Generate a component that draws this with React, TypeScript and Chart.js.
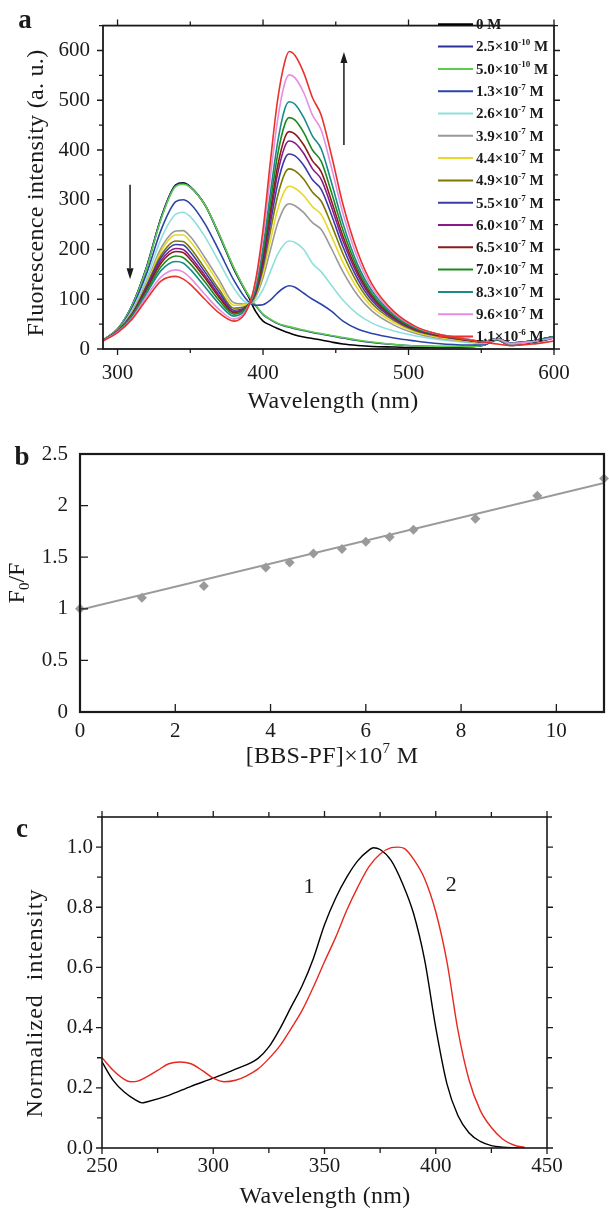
import React, { useEffect, useRef } from 'react';
import { Chart, registerables } from 'chart.js';

Chart.register(...registerables);

const FONT = '"Liberation Serif", "Times New Roman", Times, serif';
const INK = '#1a1a1a';

// ---------------- Panel a : fluorescence spectra ----------------
const wavelengthA = [290, 300, 310, 320, 330, 340, 345, 350, 360, 370, 380, 390, 395, 400, 405, 410, 415, 418, 422, 428, 434, 440, 447, 455, 465, 475, 490, 505, 520, 540, 552, 561, 570, 585, 600];
const concMantissa = ['0', '2.5', '5.0', '1.3', '2.6', '3.9', '4.4', '4.9', '5.5', '6.0', '6.5', '7.0', '8.3', '9.6', '1.1'];
const concExponent = ['', '-10', '-10', '-7', '-7', '-7', '-7', '-7', '-7', '-7', '-7', '-7', '-7', '-7', '-6'];
const colorsA = ['#000000', '#2b2f9a', '#5ccc4c', '#2c44a8', '#8fe0dc', '#999999', '#e8d82a', '#7d7800', '#3b3ba8', '#8a1a8a', '#8b1c1c', '#1e8a1e', '#1a8a8a', '#e68ee0', '#e8322a'];
const int0 = [18, 40, 88, 165, 265, 330, 334, 326, 290, 228, 160, 105, 75, 56, 48, 41, 35, 32, 28, 24, 21, 18, 14, 10, 7, 5, 4, 3, 3, 4, 8, 18, 7, 13, 22];
const int1 = [18, 40, 88, 165, 264, 329, 333, 326, 290, 229, 162, 107, 87, 69, 59, 51, 46, 44, 41, 37, 33, 30, 26, 22, 17, 13, 9, 6, 5, 5, 8, 19, 8, 14, 24];
const int2 = [18, 40, 87, 163, 262, 327, 331, 325, 290, 230, 163, 108, 88, 70, 60, 52, 47, 45, 42, 38, 34, 31, 27, 23, 18, 14, 9, 6, 5, 5, 8, 19, 8, 15, 25];
const int3 = [18, 38, 82, 152, 240, 296, 300, 292, 252, 196, 138, 95, 88, 89, 98, 113, 124, 127, 124, 112, 100, 90, 76, 56, 40, 31, 22, 16, 11, 8, 9, 20, 9, 14, 23];
const int4 = [18, 37, 78, 142, 222, 271, 275, 266, 226, 174, 122, 92, 98, 120, 155, 190, 212, 217, 214, 200, 172, 155, 128, 98, 70, 52, 36, 26, 19, 13, 11, 21, 10, 15, 24];
const int5 = [17, 37, 74, 134, 203, 237, 238, 226, 184, 138, 93, 90, 105, 143, 198, 252, 286, 292, 288, 274, 254, 240, 202, 155, 108, 76, 48, 31, 22, 15, 12, 21, 11, 16, 24];
const int6 = [17, 36, 72, 131, 197, 229, 229, 216, 175, 130, 88, 90, 108, 152, 217, 280, 319, 327, 323, 308, 286, 270, 227, 174, 121, 84, 53, 34, 24, 16, 13, 21, 12, 16, 24];
const int7 = [17, 36, 71, 128, 189, 217, 216, 203, 162, 119, 82, 89, 110, 162, 236, 307, 353, 362, 358, 341, 315, 297, 250, 191, 132, 91, 57, 36, 26, 17, 14, 21, 12, 16, 25];
const int8 = [17, 36, 70, 126, 184, 210, 209, 195, 155, 113, 78, 89, 112, 170, 252, 331, 382, 392, 388, 369, 340, 321, 270, 205, 141, 97, 60, 38, 27, 18, 14, 21, 12, 16, 25];
const int9 = [17, 36, 69, 123, 178, 202, 200, 186, 148, 107, 75, 89, 115, 178, 266, 352, 407, 418, 414, 393, 362, 341, 286, 217, 149, 102, 62, 39, 27, 18, 14, 21, 12, 16, 25];
const int10 = [17, 36, 68, 120, 173, 196, 194, 180, 143, 103, 73, 88, 117, 185, 277, 367, 425, 437, 432, 410, 378, 356, 298, 226, 155, 106, 64, 40, 28, 18, 15, 21, 12, 16, 25];
const int11 = [17, 35, 67, 116, 166, 187, 184, 171, 135, 97, 70, 88, 120, 195, 293, 390, 452, 465, 460, 435, 400, 377, 315, 238, 162, 110, 66, 41, 29, 19, 15, 21, 12, 16, 25];
const int12 = [17, 35, 65, 112, 158, 176, 173, 160, 125, 90, 66, 87, 125, 205, 312, 415, 483, 497, 492, 465, 428, 402, 335, 252, 170, 116, 69, 43, 30, 20, 15, 21, 12, 16, 25];
const int13 = [16, 34, 62, 106, 145, 159, 155, 143, 110, 79, 60, 86, 135, 225, 345, 460, 535, 551, 545, 515, 470, 440, 365, 272, 183, 123, 72, 44, 30, 20, 15, 20, 11, 15, 22];
const int14 = [16, 33, 60, 100, 137, 146, 141, 130, 100, 72, 56, 85, 140, 240, 375, 500, 578, 598, 590, 555, 505, 470, 390, 290, 195, 130, 75, 45, 30, 19, 14, 10, 7, 10, 16];
const intensityA = [int0, int1, int2, int3, int4, int5, int6, int7, int8, int9, int10, int11, int12, int13, int14];
const majorAx = [300, 400, 500, 600];
const minorAx = [350, 450, 550];
const majorAy = [0, 100, 200, 300, 400, 500, 600];
const minorAy = [50, 150, 250, 350, 450, 550, 650];

// ---------------- Panel b : Stern-Volmer ----------------
const concB = [0, 1.3, 2.6, 3.9, 4.4, 4.9, 5.5, 6.0, 6.5, 7.0, 8.3, 9.6, 11];
const ratioB = [1.0, 1.107, 1.22, 1.40, 1.448, 1.535, 1.58, 1.65, 1.696, 1.766, 1.873, 2.095, 2.262];
const fitX = [0, 11];
const fitY = [0.99, 2.22];
const labelBx = [0, 2, 4, 6, 8, 10];
const labelBy = [0, 0.5, 1, 1.5, 2, 2.5];
const majorBx = [2, 4, 6, 8, 10];
const majorBy = [0.5, 1, 1.5, 2];

// ---------------- Panel c : normalized spectra ----------------
const wavelength1 = [250, 255, 260, 265, 268, 270, 280, 290, 300, 310, 320, 325, 330, 335, 340, 345, 350, 355, 360, 365, 370, 372, 375, 380, 385, 390, 395, 400, 405, 410, 415, 420, 425, 430, 435, 440];
const intensity1 = [0.286, 0.225, 0.186, 0.160, 0.150, 0.153, 0.175, 0.205, 0.232, 0.262, 0.297, 0.336, 0.397, 0.469, 0.540, 0.630, 0.742, 0.830, 0.900, 0.955, 0.990, 0.998, 0.992, 0.955, 0.880, 0.780, 0.625, 0.400, 0.214, 0.107, 0.050, 0.022, 0.008, 0.003, 0.001, 0.0];
const wavelength2 = [250, 255, 260, 263, 266, 270, 275, 280, 285, 290, 295, 300, 305, 310, 315, 320, 325, 330, 335, 340, 345, 350, 355, 360, 365, 370, 375, 380, 383, 386, 390, 395, 400, 405, 410, 415, 420, 425, 430, 435, 440];
const intensity2 = [0.300, 0.258, 0.228, 0.220, 0.222, 0.236, 0.258, 0.280, 0.286, 0.280, 0.258, 0.232, 0.220, 0.225, 0.240, 0.262, 0.297, 0.340, 0.397, 0.458, 0.535, 0.619, 0.700, 0.790, 0.868, 0.935, 0.977, 0.998, 1.000, 0.995, 0.960, 0.895, 0.785, 0.620, 0.390, 0.225, 0.125, 0.068, 0.030, 0.010, 0.002];
const majorCx = [250, 300, 350, 400, 450];
const minorCx = [275, 325, 375, 425];
const majorCy = [0, 0.2, 0.4, 0.6, 0.8, 1.0];
const minorCy = [0.1, 0.3, 0.5, 0.7, 0.9, 1.1];

// ---------------- helpers ----------------
type Part = { t: string; s?: 'sup' | 'sub' };

function drawRich(ctx: any, parts: Part[], x: number, y: number, size: number, weight: string, rot: number, align: 'center' | 'left' = 'center', spacing = 0) {
  ctx.save();
  ctx.translate(x, y);
  ctx.rotate(rot);
  ctx.fillStyle = INK;
  ctx.textBaseline = 'middle';
  ctx.textAlign = 'left';
  try { ctx.letterSpacing = spacing + 'px'; } catch (e) { /* ignore */ }
  const fonts = parts.map((p) => `${weight} ${p.s ? Math.round(size * 0.62) : size}px ${FONT}`);
  const widths = parts.map((p, i) => { ctx.font = fonts[i]; return ctx.measureText(p.t).width; });
  const total = widths.reduce((a, b) => a + b, 0);
  let cx = align === 'center' ? -total / 2 : 0;
  parts.forEach((p, i) => {
    ctx.font = fonts[i];
    const dy = p.s === 'sup' ? -size * 0.33 : p.s === 'sub' ? size * 0.28 : 0;
    ctx.fillText(p.t, cx, dy);
    cx += widths[i];
  });
  ctx.restore();
}

function drawArrow(ctx: any, x1: number, y1: number, x2: number, y2: number) {
  const ang = Math.atan2(y2 - y1, x2 - x1);
  const head = 11;
  const half = 3.5;
  ctx.save();
  ctx.strokeStyle = INK;
  ctx.fillStyle = INK;
  ctx.lineWidth = 1.5;
  ctx.beginPath();
  ctx.moveTo(x1, y1);
  ctx.lineTo(x2 - Math.cos(ang) * head, y2 - Math.sin(ang) * head);
  ctx.stroke();
  ctx.beginPath();
  ctx.moveTo(x2, y2);
  ctx.lineTo(x2 - Math.cos(ang) * head - Math.sin(ang) * half, y2 - Math.sin(ang) * head + Math.cos(ang) * half);
  ctx.lineTo(x2 - Math.cos(ang) * head + Math.sin(ang) * half, y2 - Math.sin(ang) * head - Math.cos(ang) * half);
  ctx.closePath();
  ctx.fill();
  ctx.restore();
}

function makeFrame(id: string, o: any) {
  return {
    id,
    afterDatasetsDraw(chart: any) {
      const { ctx, chartArea: a } = chart;
      const xs = chart.scales.x;
      const ys = chart.scales.y;
      const dir = o.inward ? -1 : 1;
      ctx.save();
      ctx.strokeStyle = INK;
      ctx.lineWidth = o.tickWidth;
      ctx.beginPath();
      const xt = (vals: number[], len: number) => vals.forEach((v) => {
        const p = xs.getPixelForValue(v);
        ctx.moveTo(p, a.bottom); ctx.lineTo(p, a.bottom + dir * len);
        if (o.mirror) { ctx.moveTo(p, a.top); ctx.lineTo(p, a.top - dir * len); }
      });
      const yt = (vals: number[], len: number) => vals.forEach((v) => {
        const p = ys.getPixelForValue(v);
        ctx.moveTo(a.left, p); ctx.lineTo(a.left - dir * len, p);
        if (o.mirror) { ctx.moveTo(a.right, p); ctx.lineTo(a.right + dir * len, p); }
      });
      xt(o.xMajor, o.majorLen);
      xt(o.xMinor || [], o.minorLen);
      yt(o.yMajor, o.majorLen);
      yt(o.yMinor || [], o.minorLen);
      ctx.stroke();
      ctx.lineWidth = o.frameWidth;
      ctx.strokeRect(a.left, a.top, a.right - a.left, a.bottom - a.top);
      ctx.restore();
    },
  };
}

const tickFont = { family: FONT, size: 21 };

function xAxis(min: number, max: number, labels: number[], height: number, pad: number, cb?: any) {
  return {
    type: 'linear', position: 'bottom', min, max,
    grid: { display: false, drawTicks: false },
    border: { display: false },
    ticks: { autoSkip: false, maxRotation: 0, minRotation: 0, padding: pad, font: tickFont, color: INK, ...(cb ? { callback: cb } : {}) },
    afterBuildTicks: (s: any) => { s.ticks = labels.map((v) => ({ value: v })); },
    afterFit: (s: any) => { s.height = height; },
  };
}

function yAxis(min: number, max: number, labels: number[], width: number, pad: number, cb?: any) {
  return {
    type: 'linear', position: 'left', min, max,
    grid: { display: false, drawTicks: false },
    border: { display: false },
    ticks: { autoSkip: false, padding: pad, font: tickFont, color: INK, ...(cb ? { callback: cb } : {}) },
    afterBuildTicks: (s: any) => { s.ticks = labels.map((v) => ({ value: v })); },
    afterFit: (s: any) => { s.width = width; },
  };
}

const basePlugins = { legend: { display: false }, tooltip: { enabled: false }, title: { display: false } };
const plainNum = (v: any) => `${+Number(v).toFixed(2)}`;

export default function App() {
  const refA = useRef<HTMLCanvasElement>(null);
  const refB = useRef<HTMLCanvasElement>(null);
  const refC = useRef<HTMLCanvasElement>(null);

  useEffect(() => {
    // ----- panel a -----
    const extrasA = {
      id: 'extrasA',
      afterDraw(chart: any) {
        const { ctx } = chart;
        const xs = chart.scales.x;
        const ys = chart.scales.y;
        drawRich(ctx, [{ t: 'Fluorescence intensity (a. u.)' }], 37, 193, 24, 'normal', -Math.PI / 2, 'center', 0.3);
        drawRich(ctx, [{ t: 'Wavelength (nm)' }], 333, 402, 24, 'normal', 0, 'center', 0.3);
        drawRich(ctx, [{ t: 'a' }], 25, 21, 27, 'bold', 0);
        concMantissa.forEach((m, i) => {
          const ly = 24.3 + i * 22.3;
          ctx.save();
          ctx.strokeStyle = colorsA[i];
          ctx.lineWidth = 2;
          ctx.beginPath();
          ctx.moveTo(438, ly);
          ctx.lineTo(473, ly);
          ctx.stroke();
          ctx.restore();
          const parts: Part[] = concExponent[i]
            ? [{ t: m + '\u00d710' }, { t: concExponent[i], s: 'sup' }, { t: ' M' }]
            : [{ t: m + ' M' }];
          drawRich(ctx, parts, 476, ly + 1, 15, 'bold', 0, 'left');
        });
        drawArrow(ctx, xs.getPixelForValue(308.6), ys.getPixelForValue(330), xs.getPixelForValue(308.6), ys.getPixelForValue(140));
        drawArrow(ctx, xs.getPixelForValue(455.6), ys.getPixelForValue(410), xs.getPixelForValue(455.6), ys.getPixelForValue(597));
      },
    };
    const chartA = new Chart(refA.current as any, {
      type: 'line',
      data: {
        datasets: intensityA.map((vals, i) => ({
          label: concMantissa[i],
          data: wavelengthA.map((w, j) => ({ x: w, y: vals[j] })),
          borderColor: colorsA[i],
          borderWidth: 1.6,
          pointRadius: 0,
          fill: false,
          cubicInterpolationMode: 'monotone',
          order: 14 - i,
        })),
      },
      options: {
        responsive: false,
        animation: false,
        devicePixelRatio: 1,
        layout: { padding: { top: 15, right: 55, left: 0, bottom: 0 } },
        plugins: basePlugins,
        scales: {
          x: xAxis(290, 600, majorAx, 71, 12),
          y: yAxis(0, 650, majorAy, 103, 13),
        },
      } as any,
      plugins: [makeFrame('frameA', { inward: false, mirror: true, tickWidth: 1.3, frameWidth: 1.8, majorLen: 6, minorLen: 4, xMajor: majorAx, xMinor: minorAx, yMajor: majorAy, yMinor: minorAy }), extrasA],
    } as any);

    // ----- panel b -----
    const extrasB = {
      id: 'extrasB',
      afterDraw(chart: any) {
        const { ctx } = chart;
        drawRich(ctx, [{ t: 'F' }, { t: '0', s: 'sub' }, { t: '/F' }], 18, 163, 24, 'normal', -Math.PI / 2);
        drawRich(ctx, [{ t: '[BBS-PF]\u00d710' }, { t: '7', s: 'sup' }, { t: ' M' }], 332, 337, 24, 'normal', 0, 'center', 0.3);
        drawRich(ctx, [{ t: 'b' }], 22, 38, 27, 'bold', 0);
      },
    };
    const grey = '#9a9a9a';
    const chartB = new Chart(refB.current as any, {
      type: 'scatter',
      data: {
        datasets: [
          {
            data: fitX.map((v, i) => ({ x: v, y: fitY[i] })),
            showLine: true,
            borderColor: grey,
            borderWidth: 2,
            pointRadius: 0,
            order: 2,
          },
          {
            data: concB.map((v, i) => ({ x: v, y: ratioB[i] })),
            pointStyle: 'rectRot',
            pointRadius: 5,
            backgroundColor: grey,
            borderColor: grey,
            borderWidth: 0,
            clip: false,
            order: 1,
          },
        ],
      },
      options: {
        responsive: false,
        animation: false,
        devicePixelRatio: 1,
        layout: { padding: { top: 34, right: 4, left: 0, bottom: 0 } },
        plugins: basePlugins,
        scales: {
          x: xAxis(0, 11, labelBx, 68, 7, plainNum),
          y: yAxis(0, 2.5, labelBy, 80, 12, plainNum),
        },
      } as any,
      plugins: [makeFrame('frameB', { inward: true, mirror: false, tickWidth: 1.3, frameWidth: 2.2, majorLen: 8, minorLen: 0, xMajor: majorBx, yMajor: majorBy }), extrasB],
    } as any);

    // ----- panel c -----
    const extrasC = {
      id: 'extrasC',
      afterDraw(chart: any) {
        const { ctx } = chart;
        const xs = chart.scales.x;
        const ys = chart.scales.y;
        drawRich(ctx, [{ t: 'Normalized  intensity' }], 36, 223, 24, 'normal', -Math.PI / 2, 'center', 1);
        drawRich(ctx, [{ t: 'Wavelength (nm)' }], 325, 417, 24, 'normal', 0, 'center', 0.3);
        drawRich(ctx, [{ t: 'c' }], 22, 50, 27, 'bold', 0);
        drawRich(ctx, [{ t: '1' }], xs.getPixelForValue(343), ys.getPixelForValue(0.868), 22, 'normal', 0);
        drawRich(ctx, [{ t: '2' }], xs.getPixelForValue(407), ys.getPixelForValue(0.874), 22, 'normal', 0);
      },
    };
    const chartC = new Chart(refC.current as any, {
      type: 'line',
      data: {
        datasets: [
          {
            data: wavelength1.map((w, j) => ({ x: w, y: intensity1[j] })),
            borderColor: '#000000',
            borderWidth: 1.4,
            pointRadius: 0,
            cubicInterpolationMode: 'monotone',
            order: 2,
          },
          {
            data: wavelength2.map((w, j) => ({ x: w, y: intensity2[j] })),
            borderColor: '#e8281e',
            borderWidth: 1.4,
            pointRadius: 0,
            cubicInterpolationMode: 'monotone',
            order: 1,
          },
        ],
      },
      options: {
        responsive: false,
        animation: false,
        devicePixelRatio: 1,
        layout: { padding: { top: 37, right: 62, left: 0, bottom: 0 } },
        plugins: basePlugins,
        scales: {
          x: xAxis(250, 450, majorCx, 69, 6),
          y: yAxis(0, 1.1, majorCy, 102, 9, (v: any) => Number(v).toFixed(1)),
        },
      } as any,
      plugins: [makeFrame('frameC', { inward: false, mirror: true, tickWidth: 1.3, frameWidth: 1.6, majorLen: 6, minorLen: 5, xMajor: majorCx, xMinor: minorCx, yMajor: majorCy, yMinor: minorCy }), extrasC],
    } as any);

    return () => {
      chartA.destroy();
      chartB.destroy();
      chartC.destroy();
    };
  }, []);

  const cs = (top: number, h: number): React.CSSProperties => ({ position: 'absolute', left: 0, top, width: 609, height: h, display: 'block' });

  return (
    <div style={{ position: 'absolute', left: 0, top: 0, width: 609, height: 1217, background: '#ffffff', overflow: 'hidden' }}>
      <canvas ref={refA} width={609} height={420} style={cs(0, 420)} />
      <canvas ref={refB} width={609} height={360} style={cs(420, 360)} />
      <canvas ref={refC} width={609} height={437} style={cs(780, 437)} />
    </div>
  );
}
